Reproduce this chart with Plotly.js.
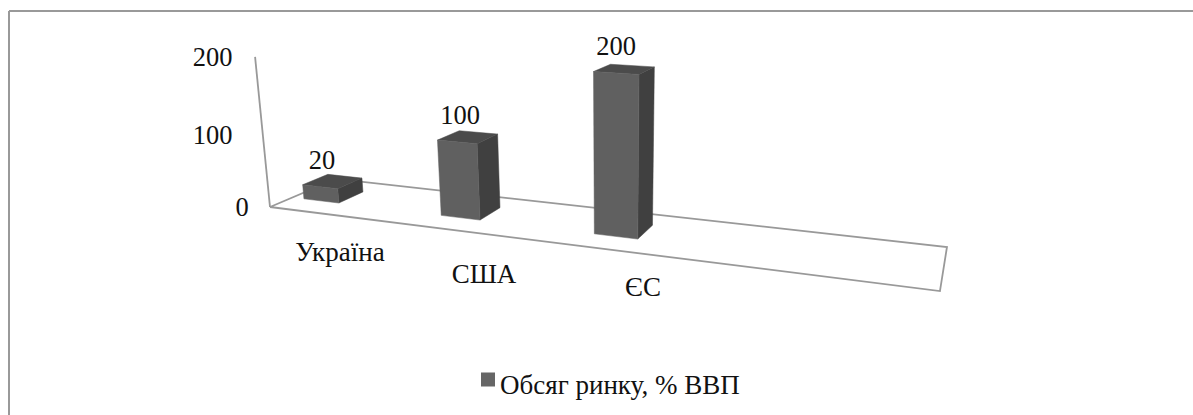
<!DOCTYPE html>
<html><head><meta charset="utf-8">
<script src="https://cdn.plot.ly/plotly-3.0.1.min.js"></script>
<style>html,body{margin:0;padding:0;background:#fff}</style></head>
<body><div id="chart" style="width:1193px;height:415px"></div>
<script>
const categories = ["Україна", "США", "ЄС"];
const values = [20, 100, 200];
const seriesName = "Обсяг ринку, % ВВП";
const axisTicks = [0, 100, 200];

// pseudo-3D scene: floor homography + vertical vanishing point
const H = {a:471.9,b:99.3,c:270,d:22.7,e:-10.3,f:207,g:-0.2107,h:0.099};
const VP = [612,3650], K0 = 0.000209;
const barU = [0.055,0.3046,0.5545], barW = 0.066, vFront = 0.32, vBack = 0.705;
function project(u,v,val){
  const w = 1+H.g*u+H.h*v;
  const bx=(H.a*u+H.b*v+H.c)/w, by=(H.d*u+H.e*v+H.f)/w;
  const s = 1/(1-val*K0/w);
  return [VP[0]+(bx-VP[0])*s, VP[1]+(by-VP[1])*s];
}
function poly(pts,color,extra){
  return Object.assign({type:'scatter',mode:'lines',x:pts.map(p=>p[0]),y:pts.map(p=>p[1]),
    fill:'toself',fillcolor:color,line:{color:color,width:0.5},hoverinfo:'skip',showlegend:false},extra||{});
}
function label(txts,xs,ys,size){
  return {type:'scatter',mode:'text',x:xs,y:ys,text:txts,textposition:'middle center',
    textfont:{family:'"Liberation Serif",serif',size:size,color:'#111'},hoverinfo:'skip',showlegend:false};
}
const traces=[];
const floorPts=[[0,0],[1,0],[1,1],[0,1],[0,0]].map(p=>project(p[0],p[1],0));
traces.push({type:'scatter',mode:'lines',x:floorPts.map(p=>p[0]),y:floorPts.map(p=>p[1]),
  line:{color:'#999',width:1.8},hoverinfo:'skip',showlegend:false});
const wallPts=[project(0,0,axisTicks[0]),project(0,0,axisTicks[2])];
traces.push({type:'scatter',mode:'lines',x:wallPts.map(p=>p[0]),y:wallPts.map(p=>p[1]),
  line:{color:'#999',width:1.8},hoverinfo:'skip',showlegend:false});
values.forEach((val,i)=>{
  const l=barU[i]-barW/2,r=barU[i]+barW/2;
  const p=project;
  traces.push(poly([p(r,vFront,0),p(r,vBack,0),p(r,vBack,val),p(r,vFront,val),p(r,vFront,0)],'#404040'));
  traces.push(poly([p(l,vFront,val),p(r,vFront,val),p(r,vBack,val),p(l,vBack,val),p(l,vFront,val)],'#4b4b4b'));
  traces.push(poly([p(l,vFront,0),p(r,vFront,0),p(r,vFront,val),p(l,vFront,val),p(l,vFront,0)],'#606060'));
});
traces.push(label(values.map(String),[322,460,616],[162,117,48],26.5));
traces.push(label(axisTicks.map(String),[242,212.5,212.5],[209,137,59],26.5));
traces.push(label(categories,[340,484,643],[254,276,289],27));
traces.push({type:'scatter',mode:'markers',x:[null],y:[null],name:seriesName,
  marker:{symbol:'square',size:14,color:'#666'},hoverinfo:'skip',showlegend:true});

const layout={
  width:1193,height:415,margin:{l:0,r:0,t:0,b:0},
  paper_bgcolor:'#fff',plot_bgcolor:'#fff',
  xaxis:{range:[0,1193],visible:false,fixedrange:true},
  yaxis:{range:[415,0],visible:false,fixedrange:true},
  showlegend:true,
  legend:{x:460/1193,y:0.075,xanchor:'left',yanchor:'middle',bgcolor:'rgba(0,0,0,0)',
    font:{family:'"Liberation Serif",serif',size:27,color:'#111'}},
  shapes:[
    {type:'line',xref:'paper',yref:'paper',x0:9/1193,x1:1,y0:1-11/415,y1:1-11/415,line:{color:'#999',width:2},layer:'below'},
    {type:'line',xref:'paper',yref:'paper',x0:9/1193,x1:9/1193,y0:0,y1:1-11/415,line:{color:'#999',width:2},layer:'below'}
  ]
};
Plotly.newPlot('chart',traces,layout,{displayModeBar:false,staticPlot:true}).then(()=>{
  document.querySelectorAll('#chart .legend .legendsymbols').forEach(n=>n.setAttribute('transform','translate(8,-4)'));
});
</script></body></html>
